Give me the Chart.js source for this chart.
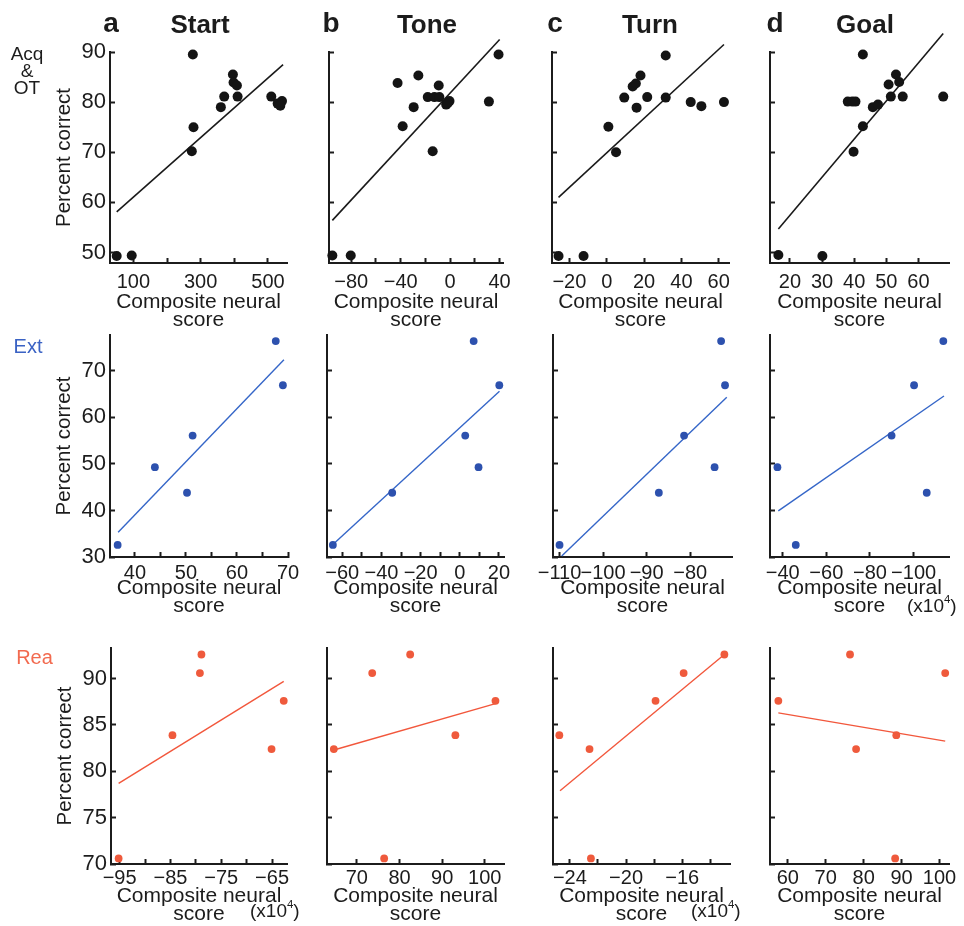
<!DOCTYPE html>
<html>
<head>
<meta charset="utf-8">
<title>Composite neural score vs percent correct</title>
<script src="https://cdn.jsdelivr.net/npm/chart.js@4.4.1/dist/chart.umd.min.js"></script>
<style>
  html, body { margin: 0; padding: 0; background: #ffffff; }
  body { width: 964px; height: 926px; position: relative; overflow: hidden;
         font-family: "Liberation Sans", Arial, Helvetica, sans-serif; color: #1c1c1c; }
  canvas { position: absolute; }
  .t { position: absolute; white-space: nowrap; line-height: 1; }
  .t sup { font-size: 0.6em; line-height: 0; vertical-align: 0.75em; }
</style>
</head>
<body>
<script>
// ---------------- data: [composite neural score, percent correct] ----------------
// Acquisition & overtraining
const acqStart = [[50.4,49.3],[95,49.4],[276.7,89.5],[278.7,75],[273.7,70.2],[395.8,85.5],[397.8,83.9],[407.7,83.3],[370,81.1],[360,79],[409.7,81.1],[509.9,81.1],[528.8,79.7],[541.7,80.2],[536.7,79.3]];
const acqStartFit = [[50.4,58.1],[545,87.5]];
const acqTone = [[-95.3,49.4],[-80.4,49.4],[-42.5,83.8],[-25.7,85.3],[-29.5,79],[-38.4,75.2],[-18.1,81],[-12.7,81],[-8.7,81],[-9.2,83.3],[-14.1,70.2],[-3.2,79.5],[-0.5,80.2],[-1.9,79.8],[31.4,80.1],[39.2,89.5]];
const acqToneFit = [[-95.3,56.4],[40.1,92.5]];
const acqTurn = [[-25.8,49.3],[-12.4,49.3],[0.9,75.1],[5,70],[9.4,80.9],[13.9,83.1],[15.6,83.7],[18.1,85.3],[16,78.9],[21.7,81],[31.6,89.3],[31.6,80.9],[45,80],[50.7,79.2],[62.8,80]];
const acqTurnFit = [[-25.8,61],[62.8,91.5]];
const acqGoal = [[16.4,49.5],[30.1,49.3],[38,80.1],[39.4,80.1],[40.4,80.1],[39.8,70.1],[42.7,89.5],[42.7,75.2],[45.8,79],[47.4,79.5],[50.7,83.5],[51.4,81.1],[53,85.5],[54,84],[55.1,81.1],[67.7,81.1]];
const acqGoalFit = [[16.4,54.7],[67.7,93.7]];

// Extinction
const extStart = [[36.6,32.6],[43.9,49.3],[50.2,43.8],[51.3,56.1],[67.6,76.4],[69,66.9]];
const extStartFit = [[36.7,35.3],[69.2,72.4]];
const extTone = [[-64.8,32.6],[-34.5,43.8],[2.8,56.1],[9.6,49.3],[7.1,76.4],[20.2,66.9]];
const extToneFit = [[-64.8,32.7],[20.3,65.6]];
const extTurn = [[-110,32.6],[-87.2,43.8],[-81.4,56.1],[-74.4,49.3],[-72.9,76.4],[-72,66.9]];
const extTurnFit = [[-109.5,30.2],[-71.6,64.3]];
const extGoal = [[-37.6,49.3],[-46,32.6],[-89.9,56.1],[-100.2,66.9],[-106,43.8],[-113.6,76.4]];
const extGoalFit = [[-38,39.9],[-113.9,64.6]];

// Reacquisition
const reaStart = [[-95.2,70.6],[-84.6,83.9],[-79.2,90.6],[-78.9,92.6],[-65.1,82.4],[-62.7,87.6]];
const reaStartFit = [[-95.2,78.7],[-62.7,89.7]];
const reaTone = [[64.6,82.4],[73.6,90.6],[82.5,92.6],[76.4,70.6],[93.1,83.9],[102.5,87.6]];
const reaToneFit = [[64.6,82.3],[102.5,87.3]];
const reaTurn = [[-24.75,83.9],[-22.6,82.4],[-22.5,70.6],[-17.9,87.6],[-15.9,90.6],[-13,92.6]];
const reaTurnFit = [[-24.7,77.9],[-13,92.6]];
const reaGoal = [[57.5,87.6],[76.4,92.6],[78,82.4],[88.6,83.9],[88.3,70.6],[101.5,90.6]];
const reaGoalFit = [[57.5,86.3],[101.5,83.25]];

// ---------------- axes: ranges, tick marks and labelled ticks ----------------
const acqY = [47.9, 90];
const extY = [30, 77.7];
const reaY = [70, 93.3];
const acqYTicks = [50, 60, 70, 80, 90];
const extYTicks = [30, 40, 50, 60, 70];
const reaYTicks = [70, 75, 80, 85, 90];

const acqXRange = [[30.5, 556.6], [-98, 42.8], [-29.3, 65.5], [13.8, 69.5]];
const extXRange = [[35.1, 70], [-67.8, 22.6], [-111.5, -70.4], [-116.2, -34.2]];
const reaXRange = [[-96.7, -62.06], [63, 104.5], [-25.2, -12.6], [55.3, 102.5]];

const acqXTicks = [[100,200,300,400,500], [-80,-60,-40,-20,0,20,40], [-20,0,20,40,60], [20,30,40,50,60]];
const acqXLabels = [[100,300,500], [-80,-40,0,40], [-20,0,20,40,60], [20,30,40,50,60]];
const extXTicks = [[40,45,50,55,60,65,70], [-60,-50,-40,-30,-20,-10,0,10,20], [-110,-100,-90,-80], [-40,-60,-80,-100]];
const extXLabels = [[40,50,60,70], [-60,-40,-20,0,20], [-110,-100,-90,-80], [-40,-60,-80,-100]];
const reaXTicks = [[-95,-90,-85,-80,-75,-70,-65], [70,80,90,100], [-24,-22,-20,-18,-16,-14], [60,70,80,90,100]];
const reaXLabels = [[-95,-85,-75,-65], [70,80,90,100], [-24,-20,-16], [60,70,80,90,100]];

const columnTitles = ['Start', 'Tone', 'Turn', 'Goal'];
const columnLetters = ['a', 'b', 'c', 'd'];

// ---------------- layout & style ----------------
const INK = '#1c1c1c';
const FONT = '"Liberation Sans", Arial, Helvetica, sans-serif';

const rows = [
  { key: 'acq', top: 52, bottom: 263, yr: acqY, yt: acqYTicks, xr: acqXRange, xt: acqXTicks, xl: acqXLabels,
    sets: [[acqStart, acqStartFit], [acqTone, acqToneFit], [acqTurn, acqTurnFit], [acqGoal, acqGoalFit]],
    cols: [[110, 287], [329, 503], [552, 729], [770, 949]],
    dot: '#141414', r: 5, line: '#1a1a1a', lw: 1.6, tickPad: 14, titlePad: 9, reverse: [false,false,false,false] },
  { key: 'ext', top: 335, bottom: 556.5, yr: extY, yt: extYTicks, xr: extXRange, xt: extXTicks, xl: extXLabels,
    sets: [[extStart, extStartFit], [extTone, extToneFit], [extTurn, extTurnFit], [extGoal, extGoalFit]],
    cols: [[110, 288], [327, 504], [553, 732], [770, 949]],
    dot: '#2d51ae', r: 3.9, line: '#3566c8', lw: 1.4, tickPad: 11, titlePad: 16.5, reverse: [false,false,false,true] },
  { key: 'rea', top: 648, bottom: 863.5, yr: reaY, yt: reaYTicks, xr: reaXRange, xt: reaXTicks, xl: reaXLabels,
    sets: [[reaStart, reaStartFit], [reaTone, reaToneFit], [reaTurn, reaTurnFit], [reaGoal, reaGoalFit]],
    cols: [[110.7, 287], [327, 504], [552.7, 730], [770, 949]],
    dot: '#ef5a3c', r: 3.9, line: '#f2573c', lw: 1.4, tickPad: 9, titlePad: 16, reverse: [false,false,false,false] }
];

const MT = 25, MB = 75, MR = 35;

function fmt(v) { return v < 0 ? '\u2212' + Math.abs(v) : String(v); }
function toXY(arr) { return arr.map(p => ({ x: p[0], y: p[1] })); }

function panel(row, c) {
  const [l, r] = row.cols[c];
  const ML = c === 0 ? 75 : 40;
  const cv = document.createElement('canvas');
  const w = Math.round(r - l) + ML + MR;
  const h = Math.round(row.bottom - row.top) + MT + MB;
  cv.width = w; cv.height = h;
  cv.style.left = (l - ML) + 'px';
  cv.style.top = (row.top - MT) + 'px';
  document.body.appendChild(cv);

  const [pts, fit] = row.sets[c];
  const xTicks = row.xt[c], xLabels = row.xl[c];
  const tickGrid = { display: true, drawOnChartArea: false, drawTicks: true, tickLength: -5, tickColor: INK, tickWidth: 2 };

  new Chart(cv, {
    type: 'scatter',
    data: {
      datasets: [
        { data: toXY(pts), backgroundColor: row.dot, borderWidth: 0, pointRadius: row.r, pointHoverRadius: row.r, clip: false },
        { data: toXY(fit), showLine: true, borderColor: row.line, borderWidth: row.lw, pointRadius: 0, pointHoverRadius: 0, fill: false, clip: false }
      ]
    },
    options: {
      responsive: false, animation: false, devicePixelRatio: 1, events: [],
      layout: { padding: { left: 0, top: MT, right: MR, bottom: 0 } },
      plugins: { legend: { display: false }, tooltip: { enabled: false } },
      scales: {
        x: {
          type: 'linear', position: 'bottom', min: row.xr[c][0], max: row.xr[c][1], reverse: row.reverse[c],
          afterBuildTicks: s => { s.ticks = xTicks.map(v => ({ value: v })); },
          afterFit: s => { s.height = MB; },
          border: { display: true, color: INK, width: 2 },
          grid: tickGrid,
          ticks: { autoSkip: false, maxRotation: 0, minRotation: 0, padding: row.tickPad, color: INK,
                   font: { family: FONT, size: 20, lineHeight: 1 },
                   callback: v => xLabels.includes(v) ? fmt(v) : '' },
          title: { display: true, text: ['Composite neural', 'score'], color: INK,
                   font: { family: FONT, size: 21, lineHeight: '18px' }, padding: { top: 0, bottom: row.titlePad } }
        },
        y: {
          type: 'linear', position: 'left', min: row.yr[0], max: row.yr[1],
          afterBuildTicks: s => { s.ticks = row.yt.map(v => ({ value: v })); },
          afterFit: s => { s.width = ML; },
          border: { display: true, color: INK, width: 2 },
          grid: tickGrid,
          ticks: { autoSkip: false, padding: 9, color: INK, font: { family: FONT, size: 22, lineHeight: 1 },
                   callback: v => c === 0 ? fmt(v) : '' },
          title: { display: c === 0, text: 'Percent correct', color: INK,
                   font: { family: FONT, size: 20.5, lineHeight: 1.2 }, padding: { top: 17.5, bottom: 0 } }
        }
      }
    }
  });
}

rows.forEach(row => { for (let c = 0; c < 4; c++) panel(row, c); });

// ---------------- headings and side labels ----------------
function putText(html, x, baseline, size, opts) {
  const o = opts || {};
  const d = document.createElement('div');
  d.className = 't';
  d.innerHTML = html;
  d.style.fontSize = size + 'px';
  d.style.fontWeight = o.bold ? 'bold' : 'normal';
  d.style.color = o.color || INK;
  d.style.top = (baseline - 0.8465 * size) + 'px';
  if (o.align === 'left') { d.style.left = x + 'px'; }
  else { d.style.left = x + 'px'; d.style.transform = 'translateX(-50%)'; }
  document.body.appendChild(d);
}

const letterX = [111, 331, 555, 775];
const titleX = [200, 427, 650, 865];
columnLetters.forEach((s, i) => putText(s, letterX[i], 33, 28, { bold: true }));
columnTitles.forEach((s, i) => putText(s, titleX[i], 33, 26, { bold: true }));

putText('Acq', 27, 60, 19);
putText('&amp;', 27, 77, 19);
putText('OT', 27, 94, 19);
putText('Ext', 28, 352.5, 20, { color: '#3a62c4' });
putText('Rea', 34.5, 664, 20, { color: '#f26a4f' });

putText('(x10<sup>4</sup>)', 907, 612.5, 19, { align: 'left' });
putText('(x10<sup>4</sup>)', 250, 917, 19, { align: 'left' });
putText('(x10<sup>4</sup>)', 691, 917, 19, { align: 'left' });
</script>
</body>
</html>
